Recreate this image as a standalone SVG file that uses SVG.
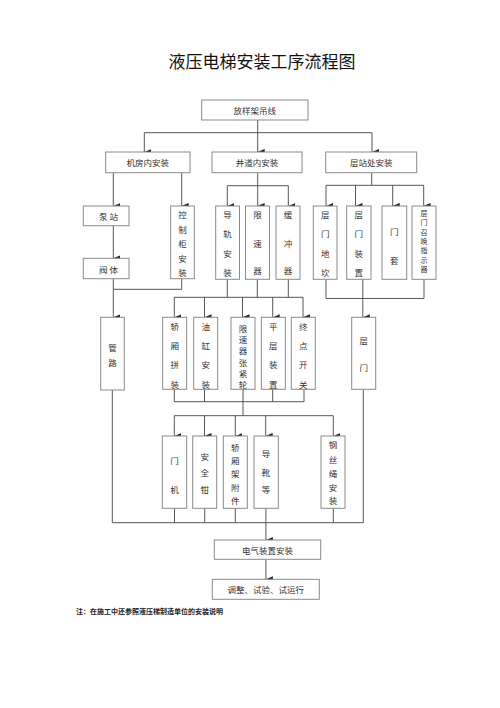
<svg xmlns="http://www.w3.org/2000/svg" width="500" height="708" viewBox="0 0 500 708">
<defs>
<marker id="arr" markerUnits="userSpaceOnUse" markerWidth="6" markerHeight="7" refX="3" refY="7" orient="auto-start-reverse" viewBox="0 0 6 7">
<path d="M0,0 L6,0 L3,7 Z" fill="#222"/>
</marker>
</defs>
<style>
.b{fill:#fff;stroke:#8a8a8a;stroke-width:1}
.t{font-family:"Noto Sans CJK SC","Liberation Serif",serif;font-size:8.5px;fill:#333;text-anchor:middle;dominant-baseline:central}
.s{font-size:7px}
.c{fill:none;stroke:#444;stroke-width:0.9}
.a{fill:none;stroke:#444;stroke-width:0.9;marker-end:url(#arr)}
</style>
<rect width="500" height="708" fill="#fff"/>
<text x="262" y="60" style="font-family:'Noto Sans CJK SC',sans-serif;font-size:17px;fill:#111;text-anchor:middle;dominant-baseline:central">液压电梯安装工序流程图</text>

<g id="connectors">
<path class="a" d="M257.7 120 V152"/>
<path class="c" d="M144.3 132.7 H372"/>
<path class="a" d="M144.3 132.7 V152"/>
<path class="a" d="M372 132.7 V152"/>
<path class="a" d="M113.3 172.7 V206"/>
<path class="a" d="M181.7 172.7 V206"/>
<path class="a" d="M113.3 225.7 V258.3"/>
<path class="a" d="M113.3 278.7 V317.3"/>
<path class="c" d="M181.7 278.7 V289.3 H113.3"/>
<path class="c" d="M257.7 172.7 V185.7 M227.3 185.7 H288.3"/>
<path class="a" d="M227.3 185.7 V206"/>
<path class="a" d="M257.7 185.7 V206"/>
<path class="a" d="M288.3 185.7 V206"/>
<path class="c" d="M227.3 279.3 V297.3 M257.3 279.3 V297.3 M288.3 279.3 V297.3 M174.3 297.3 H303"/>
<path class="a" d="M174.3 297.3 V317.3"/>
<path class="a" d="M204.5 297.3 V317.3"/>
<path class="a" d="M242.5 297.3 V317.3"/>
<path class="a" d="M272.7 297.3 V317.3"/>
<path class="a" d="M303 297.3 V317.3"/>
<path class="c" d="M371.7 172.7 V185.3 M326 185.3 H423.7"/>
<path class="a" d="M326 185.3 V206"/>
<path class="a" d="M355.5 185.3 V206"/>
<path class="a" d="M392.7 185.3 V206"/>
<path class="a" d="M423.7 185.3 V206"/>
<path class="c" d="M326 279.3 V298.5 H424 V279.3"/>
<path class="a" d="M362.8 279.3 V317.3"/>
<path class="c" d="M174.3 389.3 V401.7 H304 V389.3 M204.5 389.3 V401.7 M272.7 389.3 V401.7 M243 389.3 V415.7 M174.3 415.7 H333.3"/>
<path class="a" d="M174.3 415.7 V436"/>
<path class="a" d="M204.5 415.7 V436"/>
<path class="a" d="M235.3 415.7 V436"/>
<path class="a" d="M265.7 415.7 V436"/>
<path class="a" d="M333.3 415.7 V436"/>
<path class="c" d="M112.3 390 V522.7 H363.3 V389.3 M174.5 508.3 V522.7 M204.7 508.3 V522.7 M235.3 508.3 V522.7 M333.3 508.3 V522.7"/>
<path class="a" d="M265.9 508.3 V540"/>
<path class="a" d="M265.9 559.3 V579.3"/>
</g>

<g id="n-top"><rect class="b" x="201.7" y="100" width="106.3" height="20"/><text class="t" x="254.8" y="110">放样架吊线</text></g>
<g id="n-jifang"><rect class="b" x="105.7" y="152" width="84.3" height="20.7"/><text class="t" x="147.8" y="162.3">机房内安装</text></g>
<g id="n-jingdao"><rect class="b" x="212" y="152" width="90" height="20.7"/><text class="t" x="257" y="162.3">井道内安装</text></g>
<g id="n-cengzhan"><rect class="b" x="325.7" y="152" width="91" height="20.7"/><text class="t" x="371.2" y="162.3">层站处安装</text></g>

<g id="n-bengzhan"><rect class="b" x="83.3" y="206" width="45.7" height="19.7"/><text class="t" x="108.5" y="216">泵 站</text></g>
<g id="n-fati"><rect class="b" x="83.3" y="258.3" width="45.7" height="20.4"/><text class="t" x="108.5" y="268.7">阀 体</text></g>
<g id="n-kongzhigui"><rect class="b" x="170.7" y="206" width="23.6" height="72.7"/>
<text class="t" x="182.5" y="213.5">控</text><text class="t" x="182.5" y="228.5">制</text><text class="t" x="182.5" y="243">柜</text><text class="t" x="182.5" y="257.5">安</text><text class="t" x="182.5" y="272">装</text></g>

<g id="n-daogui"><rect class="b" x="215.7" y="206" width="23.8" height="73.3"/>
<text class="t" x="227.6" y="213.5">导</text><text class="t" x="227.6" y="232.7">轨</text><text class="t" x="227.6" y="252.5">安</text><text class="t" x="227.6" y="271.7">装</text></g>
<g id="n-xiansuqi"><rect class="b" x="245.5" y="206" width="24" height="73.3"/>
<text class="t" x="257.5" y="213.5">限</text><text class="t" x="257.5" y="242.7">速</text><text class="t" x="257.5" y="270">器</text></g>
<g id="n-huanchongqi"><rect class="b" x="276" y="206" width="24" height="73.3"/>
<text class="t" x="288" y="213.5">缓</text><text class="t" x="288" y="242.7">冲</text><text class="t" x="288" y="270">器</text></g>

<g id="n-dikan"><rect class="b" x="313.3" y="206" width="23.7" height="73.3"/>
<text class="t" x="325.2" y="213.5">层</text><text class="t" x="325.2" y="232.7">门</text><text class="t" x="325.2" y="252.5">地</text><text class="t" x="325.2" y="271.7">坎</text></g>
<g id="n-cengmenzhuangzhi"><rect class="b" x="346.7" y="206" width="24.3" height="73.3"/>
<text class="t" x="358.8" y="213.5">层</text><text class="t" x="358.8" y="232.7">门</text><text class="t" x="358.8" y="252.5">装</text><text class="t" x="358.8" y="271.7">置</text></g>
<g id="n-mentao"><rect class="b" x="382" y="206" width="24.7" height="73.3"/>
<text class="t" x="394.3" y="231">门</text><text class="t" x="394.3" y="260">套</text></g>
<g id="n-zhaohuan"><rect class="b" x="412" y="206" width="24" height="73.3"/>
<text class="t s" x="424" y="212.7">层</text><text class="t s" x="424" y="222.2">门</text><text class="t s" x="424" y="231.6">召</text><text class="t s" x="424" y="241">唤</text><text class="t s" x="424" y="250.4">指</text><text class="t s" x="424" y="259.8">示</text><text class="t s" x="424" y="269.3">器</text></g>

<g id="n-guanlu"><rect class="b" x="100.7" y="317.3" width="23.6" height="72.7"/>
<text class="t" x="112.5" y="346.7">管</text><text class="t" x="112.5" y="362.3">路</text></g>
<g id="n-jiaoxiang"><rect class="b" x="162.7" y="317.3" width="24" height="72"/>
<text class="t" x="174.7" y="325.7">轿</text><text class="t" x="174.7" y="345.3">厢</text><text class="t" x="174.7" y="364.3">拼</text><text class="t" x="174.7" y="383.5">装</text></g>
<g id="n-yougang"><rect class="b" x="193.7" y="317.3" width="24" height="72"/>
<text class="t" x="205.7" y="325.7">油</text><text class="t" x="205.7" y="345.3">缸</text><text class="t" x="205.7" y="364.3">安</text><text class="t" x="205.7" y="383.5">装</text></g>
<g id="n-zhangjinlun"><rect class="b" x="231" y="317.3" width="24" height="72"/>
<text class="t" x="243" y="327.7">限</text><text class="t" x="243" y="339">速</text><text class="t" x="243" y="350.3">器</text><text class="t" x="243" y="361.5">张</text><text class="t" x="243" y="372.7">紧</text><text class="t" x="243" y="383.5">轮</text></g>
<g id="n-pingceng"><rect class="b" x="261.3" y="317.3" width="24" height="72"/>
<text class="t" x="273.3" y="325.7">平</text><text class="t" x="273.3" y="345.3">层</text><text class="t" x="273.3" y="364.3">装</text><text class="t" x="273.3" y="383.5">置</text></g>
<g id="n-zhongdian"><rect class="b" x="291.3" y="317.3" width="24" height="72"/>
<text class="t" x="303.3" y="325.7">终</text><text class="t" x="303.3" y="345.3">点</text><text class="t" x="303.3" y="364.3">开</text><text class="t" x="303.3" y="383.5">关</text></g>
<g id="n-cengmen"><rect class="b" x="351.7" y="317.3" width="24" height="72"/>
<text class="t" x="363.7" y="340">层</text><text class="t" x="363.7" y="367.3">门</text></g>

<g id="n-menji"><rect class="b" x="162.3" y="436" width="24.4" height="72.3"/>
<text class="t" x="174.5" y="460">门</text><text class="t" x="174.5" y="489.3">机</text></g>
<g id="n-anquanqian"><rect class="b" x="192.7" y="436" width="24" height="72.3"/>
<text class="t" x="204.7" y="456">安</text><text class="t" x="204.7" y="471.7">全</text><text class="t" x="204.7" y="489.3">钳</text></g>
<g id="n-jiaxiangjia"><rect class="b" x="223.3" y="436" width="24" height="72.3"/>
<text class="t" x="235.3" y="446.7">轿</text><text class="t" x="235.3" y="459.5">厢</text><text class="t" x="235.3" y="473">架</text><text class="t" x="235.3" y="487.3">附</text><text class="t" x="235.3" y="500">件</text></g>
<g id="n-daoxue"><rect class="b" x="254" y="436" width="24.3" height="72.3"/>
<text class="t" x="266.1" y="453.3">导</text><text class="t" x="266.1" y="471.7">靴</text><text class="t" x="266.1" y="489.3">等</text></g>
<g id="n-gangsisheng"><rect class="b" x="321" y="436" width="24" height="72.3"/>
<text class="t" x="333" y="444">钢</text><text class="t" x="333" y="459">丝</text><text class="t" x="333" y="473.3">绳</text><text class="t" x="333" y="487.3">安</text><text class="t" x="333" y="500">装</text></g>

<g id="n-dianqi"><rect class="b" x="214.3" y="540" width="106.4" height="19.3"/><text class="t" x="267.5" y="549.7">电气装置安装</text></g>
<g id="n-tiaozheng"><rect class="b" x="212.3" y="579.3" width="107" height="20"/><text class="t" x="265.8" y="589.3">调整、试验、试运行</text></g>

<text x="76" y="610.7" style="font-family:'Noto Sans CJK SC',sans-serif;font-size:7px;font-weight:bold;fill:#222;dominant-baseline:central">注：在施工中还参照液压梯制造单位的安装说明</text>
</svg>
